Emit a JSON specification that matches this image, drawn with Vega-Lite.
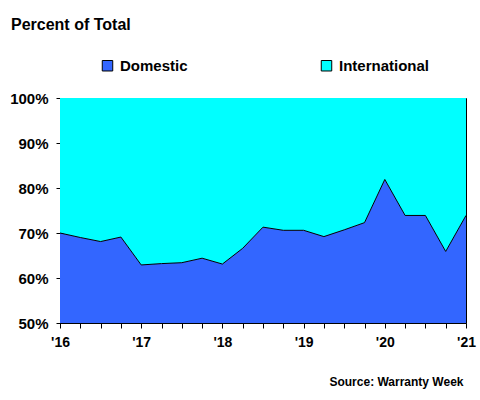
{
  "$schema": "https://vega.github.io/schema/vega-lite/v6.json",
  "autosize": "none",
  "width": 406,
  "height": 225,
  "padding": {"left": 60, "top": 98, "right": 14, "bottom": 77},
  "background": "white",
  "title": {
    "text": "Percent of Total",
    "anchor": "start",
    "frame": "group",
    "font": "Liberation Sans",
    "fontSize": 16,
    "fontWeight": "bold",
    "color": "black",
    "dx": -49,
    "offset": 25
  },
  "config": {
    "view": {"stroke": "black", "strokeWidth": 1},
    "axis": {
      "labelFont": "Liberation Sans",
      "labelFontWeight": "bold",
      "labelColor": "black",
      "domainColor": "black",
      "tickColor": "black",
      "grid": false
    }
  },
  "data": {
    "values": [
      {"t": 2016.00, "dom": 70.0},
      {"t": 2016.25, "dom": 69.0},
      {"t": 2016.50, "dom": 68.1},
      {"t": 2016.75, "dom": 69.1},
      {"t": 2017.00, "dom": 62.9},
      {"t": 2017.25, "dom": 63.2},
      {"t": 2017.50, "dom": 63.4},
      {"t": 2017.75, "dom": 64.4},
      {"t": 2018.00, "dom": 63.1},
      {"t": 2018.25, "dom": 66.6},
      {"t": 2018.50, "dom": 71.3},
      {"t": 2018.75, "dom": 70.6},
      {"t": 2019.00, "dom": 70.6},
      {"t": 2019.25, "dom": 69.2},
      {"t": 2019.50, "dom": 70.7},
      {"t": 2019.75, "dom": 72.3},
      {"t": 2020.00, "dom": 81.9},
      {"t": 2020.25, "dom": 73.9},
      {"t": 2020.50, "dom": 73.9},
      {"t": 2020.75, "dom": 65.9},
      {"t": 2021.00, "dom": 73.9}
    ]
  },
  "encoding": {
    "x": {
      "field": "t",
      "type": "quantitative",
      "scale": {"domain": [2016, 2021], "nice": false, "zero": false},
      "axis": {
        "values": [2016, 2016.25, 2016.5, 2016.75, 2017, 2017.25, 2017.5, 2017.75, 2018, 2018.25, 2018.5, 2018.75, 2019, 2019.25, 2019.5, 2019.75, 2020, 2020.25, 2020.5, 2020.75, 2021],
        "labelExpr": "datum.value % 1 == 0 ? \"'\" + substring(toString(datum.value), 2, 4) : ''",
        "labelFontSize": 14,
        "tickSize": 5,
        "labelPadding": 7,
        "labelFlush": false,
        "labelOverlap": false,
        "title": "Source: Warranty Week",
        "titleFont": "Liberation Sans",
        "titleFontSize": 12,
        "titleFontWeight": "bold",
        "titleColor": "black",
        "titleAlign": "right",
        "titleAnchor": "end",
        "titleX": 403,
        "titleY": 62,
        "titleBaseline": "alphabetic"
      }
    }
  },
  "layer": [
    {
      "mark": {"type": "area", "clip": true},
      "encoding": {
        "y": {
          "field": "dom",
          "type": "quantitative",
          "scale": {"domain": [50, 100], "nice": false, "zero": false},
          "axis": {
            "values": [50, 60, 70, 80, 90, 100],
            "format": ".0f",
            "labelExpr": "datum.value + '%'",
            "labelFontSize": 15,
            "tickSize": 4,
            "labelPadding": 8,
            "title": null
          }
        },
        "y2": {"datum": 100},
        "color": {
          "datum": "International",
          "type": "nominal",
          "scale": {"domain": ["Domestic", "International"], "range": ["#3366FF", "#00FFFF"]},
          "legend": {
            "title": null,
            "orient": "none",
            "direction": "horizontal",
            "legendX": 40,
            "legendY": -40,
            "symbolType": "square",
            "symbolSize": 110,
            "symbolStrokeColor": "black",
            "symbolStrokeWidth": 1,
            "symbolOpacity": 1,
            "labelFont": "Liberation Sans",
            "labelFontSize": 15,
            "labelFontWeight": "bold",
            "labelColor": "black",
            "labelOffset": 5,
            "columnPadding": 131
          }
        },
        "opacity": {"value": 1}
      }
    },
    {
      "mark": {"type": "area", "clip": true},
      "encoding": {
        "y": {
          "field": "dom",
          "type": "quantitative",
          "axis": {
            "values": [50, 52, 54, 56, 58, 60, 62, 64, 66, 68, 70, 72, 74, 76, 78, 80, 82, 84, 86, 88, 90, 92, 94, 96, 98, 100],
            "labels": false,
            "domain": false,
            "tickSize": -4,
            "orient": "left",
            "title": null
          }
        },
        "y2": {"datum": 50},
        "color": {"datum": "Domestic", "type": "nominal"},
        "opacity": {"value": 1}
      }
    },
    {
      "mark": {"type": "line", "color": "black", "strokeWidth": 1, "clip": true},
      "encoding": {
        "y": {"field": "dom", "type": "quantitative", "axis": null}
      }
    }
  ],
  "resolve": {"axis": {"y": "independent"}}
}
